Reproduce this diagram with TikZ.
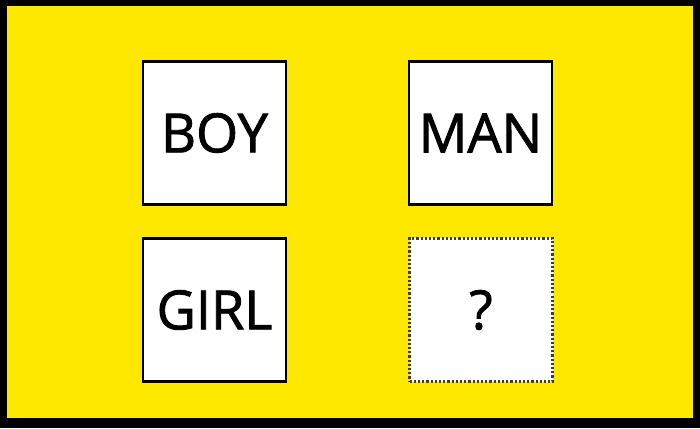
\documentclass[tikz,border=0pt]{standalone}
\usepackage{fontspec}
\setmainfont[FakeBold=1.6]{Open Sans}
\definecolor{bgyellow}{RGB}{255,232,0}
\definecolor{dotgray}{RGB}{60,60,50}
\begin{document}
\begin{tikzpicture}[x=1pt,y=1pt,
  card/.style={draw=black,fill=white,line width=2.6pt,minimum width=143pt,minimum height=143pt,inner sep=0pt,font=\fontsize{54}{60}\selectfont},
  blankcard/.style={card,draw=dotgray,line width=2.2pt,dash pattern=on 2.2pt off 2pt}]
\useasboundingbox (0,0) rectangle (700,428);
\fill[black] (0,0) rectangle (700,428);
\fill[bgyellow] (7,10) rectangle (693,422);
\node[card] (boy) at (214.5,295) {BOY};
\node[card] (man) at (480.5,295) {MAN};
\node[card] (girl) at (214.5,118) {GIRL};
\node[blankcard] (q) at (481,118) {?};
\end{tikzpicture}
\end{document}
